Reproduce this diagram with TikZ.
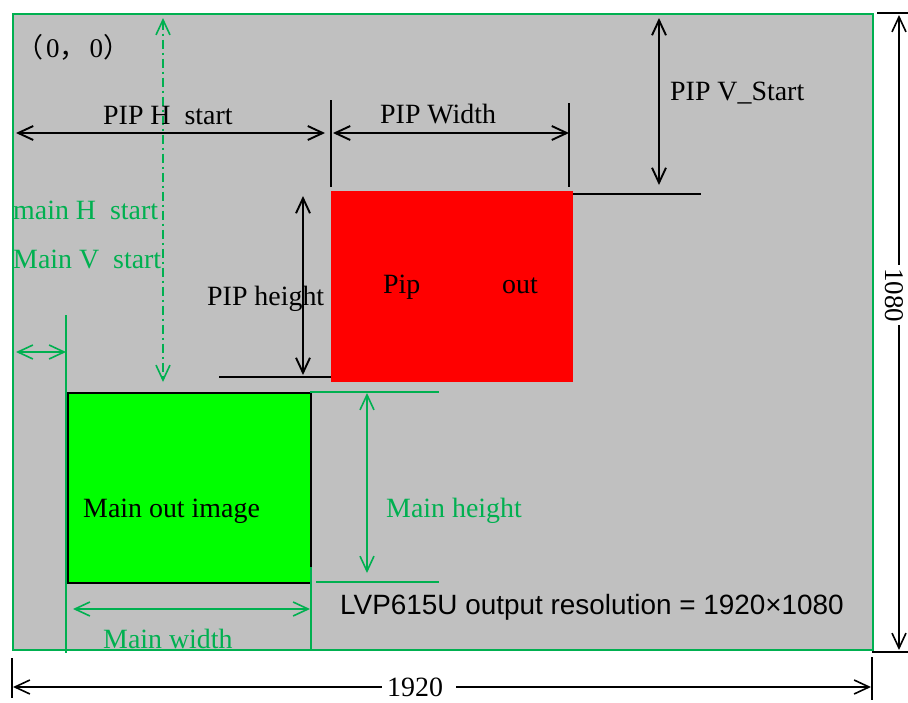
\documentclass[tikz,border=0pt]{standalone}
\usepackage{fontspec}
\setmainfont{Liberation Serif}
\newfontfamily\arialfont{Liberation Sans}
\newfontfamily\cjk{Noto Sans CJK SC}
\usetikzlibrary{arrows.meta}
\definecolor{bggray}{HTML}{C0C0C0}
\definecolor{ogreen}{HTML}{00B050}
\definecolor{brightgreen}{HTML}{00FF00}
\definecolor{pipred}{HTML}{FF0000}
\tikzset{
  barb/.tip={Straight Barb[length=15pt,width=14pt]},
  blk/.style={line width=1.9pt, black},
  grn/.style={line width=1.6pt, ogreen},
  dimarrow/.style={barb-barb},
  lbl/.style={inner sep=0pt, anchor=base west, font=\fontsize{27.9}{32}\selectfont},
  glbl/.style={lbl, text=ogreen},
}
\begin{document}
\begin{tikzpicture}[x=1pt,y=-1pt]
\useasboundingbox (0,0) rectangle (908,702);
\fill[white] (0,0) rectangle (908,702);
% screen
\node[draw=ogreen, fill=bggray, line width=1.6pt, inner sep=0pt, anchor=north west,
      minimum width=860pt, minimum height=636pt] (screen) at (12,13) {};
% PIP rectangle
\node[fill=pipred, inner sep=0pt, anchor=north west,
      minimum width=242pt, minimum height=191pt] (pip) at (331,191) {};
% main rectangle
\node[draw=black, fill=brightgreen, line width=1.6pt, inner sep=0pt, anchor=north west,
      minimum width=243pt, minimum height=190pt] (main) at (67,392) {};

% coordinates
\coordinate (phsL) at (16,133);   \coordinate (phsR) at (325,133);
\coordinate (t1a) at (331,100);   \coordinate (t1b) at (331,187);
\coordinate (pwL) at (333,133);   \coordinate (pwR) at (569,133);
\coordinate (t2a) at (569,103);   \coordinate (t2b) at (569,187);
\coordinate (pvT) at (659,18);    \coordinate (pvB) at (659,185);
\coordinate (pvl1) at (573,194);  \coordinate (pvl2) at (701,194);
\coordinate (phT) at (303,196);   \coordinate (phB) at (303,375);
\coordinate (phl1) at (219,377);  \coordinate (phl2) at (331,377);
\coordinate (mvT) at (163,18);    \coordinate (mvB) at (163,382);
\coordinate (mhL) at (16,352);    \coordinate (mhR) at (66,352);
\coordinate (gv1a) at (66,315);   \coordinate (gv1b) at (66,653);
\coordinate (gh1a) at (310,392);  \coordinate (gh1b) at (439,392);
\coordinate (gh2a) at (316,582);  \coordinate (gh2b) at (439,582);
\coordinate (mhgT) at (367,393);  \coordinate (mhgB) at (367,573);
\coordinate (gv2a) at (311,567);  \coordinate (gv2b) at (311,649);
\coordinate (mwL) at (73,609);    \coordinate (mwR) at (310,609);
\coordinate (hT) at (899,15);     \coordinate (hB) at (899,650);
\coordinate (hgapT) at (899,265); \coordinate (hgapB) at (899,325);
\coordinate (ht1a) at (877,13);   \coordinate (ht1b) at (908,13);
\coordinate (ht2a) at (872,652);  \coordinate (ht2b) at (908,652);
\coordinate (wL) at (13,687);     \coordinate (wR) at (871,687);
\coordinate (wgapL) at (382,687); \coordinate (wgapR) at (456,687);
\coordinate (wt1a) at (12,658);   \coordinate (wt1b) at (12,698);
\coordinate (wt2a) at (872,657);  \coordinate (wt2b) at (872,700);

% black dimension lines
\draw[blk, dimarrow] (phsL) -- (phsR);
\draw[blk] (t1a) -- (t1b);
\draw[blk, dimarrow] (pwL) -- (pwR);
\draw[blk] (t2a) -- (t2b);
\draw[blk, dimarrow] (pvT) -- (pvB);
\draw[blk] (pvl1) -- (pvl2);
\draw[blk, dimarrow] (phT) -- (phB);
\draw[blk] (phl1) -- (phl2);

% green dimension lines
\draw[grn, dimarrow, dash pattern=on 9pt off 4pt on 2pt off 4pt] (mvT) -- (mvB);
\draw[grn, dimarrow] (mhL) -- (mhR);
\draw[grn] (gv1a) -- (gv1b);
\draw[grn] (gh1a) -- (gh1b);
\draw[grn] (gh2a) -- (gh2b);
\draw[grn, dimarrow] (mhgT) -- (mhgB);
\draw[grn] (gv2a) -- (gv2b);
\draw[grn, dimarrow] (mwL) -- (mwR);

% outer dimensions
\draw[blk, line width=1.6pt, barb-] (hT) -- (hgapT);
\draw[blk, line width=1.6pt, -barb] (hgapB) -- (hB);
\node[inner sep=0pt, anchor=base, rotate=-90, font=\fontsize{27}{32}\selectfont] (h1080) at (885,295) {1080};
\draw[blk, line width=1.6pt] (ht1a) -- (ht1b);
\draw[blk, line width=1.6pt] (ht2a) -- (ht2b);
\draw[blk, line width=1.6pt, barb-] (wL) -- (wgapL);
\draw[blk, line width=1.6pt, -barb] (wgapR) -- (wR);
\node[lbl] (w1920) at (387,696) {1920};
\draw[blk, line width=1.6pt] (wt1a) -- (wt1b);
\draw[blk, line width=1.6pt] (wt2a) -- (wt2b);

% labels
\node[lbl, font=\fontsize{27}{32}\selectfont] (origin) at (16,57) {{\cjk （}\hspace{3pt}0{\cjk ，}\hspace{3pt}0{\cjk ）}};
\node[lbl] (phstext) at (103,124) {PIP H~ start};
\node[lbl] (pwtext) at (380,123) {PIP Width};
\node[lbl] (pvtext) at (670,100) {PIP V\_Start};
\node[lbl] (phtext) at (207,305) {PIP height};
\node[lbl] (piptext) at (383,293) {Pip};
\node[lbl] (pipout) at (502,293) {out};
\node[glbl] (mhstext) at (13,219) {main H~ start};
\node[glbl] (mvstext) at (13,268) {Main V~ start};
\node[lbl] (maintext) at (83,517) {Main out image};
\node[glbl] (mhgtext) at (386,517) {Main height};
\node[glbl] (mwtext) at (103,648) {Main width};
\node[lbl, font=\arialfont\fontsize{27.9}{32}\selectfont] (restext) at (340,614) {LVP615U output resolution = 1920×1080};
\end{tikzpicture}
\end{document}
